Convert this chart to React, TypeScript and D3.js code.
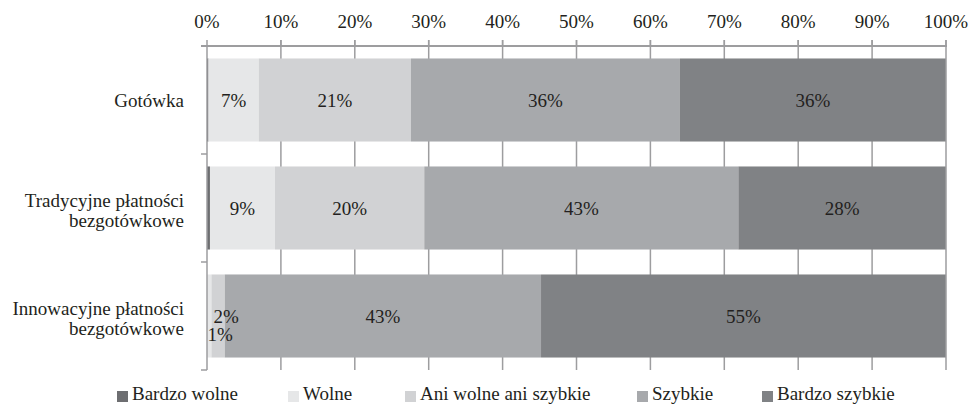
import React from "react";
import * as d3 from "d3";

const categories = ["Gotówka", "Tradycyjne płatności\nbezgotówkowe", "Innowacyjne płatności\nbezgotówkowe"];
const seriesNames = ["Bardzo wolne", "Wolne", "Ani wolne ani szybkie", "Szybkie", "Bardzo szybkie"];
const bardzoWolne = [0.2, 0.4, 0];
const wolne = [6.8, 8.8, 0.6];
const aniWolneAniSzybkie = [20.6, 20.2, 1.8];
const szybkie = [36.4, 42.5, 42.8];
const bardzoSzybkie = [36.0, 28.1, 54.8];
const tickValues = [0, 10, 20, 30, 40, 50, 60, 70, 80, 90, 100];

const colors = ["#6d6e71", "#e6e7e8", "#d1d2d4", "#a7a9ac", "#808285"];
// label nudges for the crowded small segments (category index, series index) -> [dx, dy]
const labelNudge: Record<string, [number, number]> = {
  "2-1": [11, 18],
  "2-2": [8, 0],
};
const legendX = [117, 288, 405, 637, 762];

const W = 971;
const H = 405;
const FONT = "'Liberation Serif', 'Times New Roman', serif";
const TEXT = "#231f20";
const GRID = "#9d9d9f";

export default function App() {
  const seriesValues = [bardzoWolne, wolne, aniWolneAniSzybkie, szybkie, bardzoSzybkie];
  const rows = categories.map((c, i) => {
    const o: any = { cat: c };
    seriesNames.forEach((s, j) => (o[s] = seriesValues[j][i]));
    return o;
  });
  const stacked = d3.stack<any>().keys(seriesNames)(rows);

  const x = d3.scaleLinear().domain([0, 100]).range([207, 946]);
  const y = d3.scaleBand<string>().domain(categories).range([46, 370]).paddingInner(0.231).paddingOuter(0.1155);
  const step = y.step();
  const bounds = categories.map((c) => (y(c) as number) - (step * 0.231) / 2).concat([370]);

  return (
    <div style={{ position: "absolute", left: 0, top: 0 }}>
      <svg width={W} height={H} style={{ display: "block", background: "#fff" }} fontFamily={FONT}>
        {/* inner gridlines */}
        {tickValues.slice(1, -1).map((t) => (
          <line key={"g" + t} x1={x(t)} x2={x(t)} y1={40} y2={370} stroke={GRID} strokeWidth={1.5} />
        ))}
        {/* bars */}
        {stacked.map((s, j) =>
          s.map((d, i) => (
            <rect
              key={`r${j}-${i}`}
              x={x(d[0])}
              y={y(categories[i])}
              width={Math.max(0, x(d[1]) - x(d[0]))}
              height={y.bandwidth()}
              fill={colors[j]}
            />
          ))
        )}
        {/* data labels */}
        {stacked.map((s, j) =>
          s.map((d, i) => {
            const v = d[1] - d[0];
            const r = Math.round(v);
            if (r === 0) return null;
            const n = labelNudge[`${i}-${j}`] || [0, 0];
            const cx = (x(d[0]) + x(d[1])) / 2 + n[0];
            const cy = (y(categories[i]) as number) + y.bandwidth() / 2 + 6.5 + n[1];
            return (
              <text key={`l${j}-${i}`} x={cx} y={cy} textAnchor="middle" fontSize={19} fill={TEXT}>
                {r}%
              </text>
            );
          })
        )}
        {/* top axis */}
        <line x1={201} x2={947} y1={46} y2={46} stroke={GRID} strokeWidth={2} />
        {tickValues.map((t) => (
          <line key={"t" + t} x1={x(t)} x2={x(t)} y1={40} y2={46} stroke={GRID} strokeWidth={1.5} />
        ))}
        <line x1={x(100)} x2={x(100)} y1={40} y2={370} stroke={GRID} strokeWidth={1.5} />
        {tickValues.map((t) => (
          <text key={"tl" + t} x={x(t)} y={28} textAnchor="middle" fontSize={19} fill={TEXT}>
            {t}%
          </text>
        ))}
        {/* left axis */}
        <line x1={x(0)} x2={x(0)} y1={46} y2={370} stroke={GRID} strokeWidth={1.5} />
        {bounds.map((b, k) => (
          <line key={"lb" + k} x1={201} x2={x(0)} y1={b} y2={b} stroke={GRID} strokeWidth={1.5} />
        ))}
        {/* category labels */}
        {categories.map((c) => {
          const lines = c.split("\n");
          const cy = (y(c) as number) + y.bandwidth() / 2;
          const base = lines.length === 1 ? cy + 7 : cy - 1;
          return (
            <text key={"c" + c} x={184} y={base} textAnchor="end" fontSize={19} fill={TEXT}>
              {lines.map((l, k) => (
                <tspan key={k} x={184} dy={k === 0 ? 0 : 20}>
                  {l}
                </tspan>
              ))}
            </text>
          );
        })}
        {/* legend */}
        {seriesNames.map((s, j) => (
          <g key={"lg" + s}>
            <rect x={legendX[j]} y={391} width={11} height={11} fill={colors[j]} />
            <text x={legendX[j] + 15} y={400} fontSize={19} fill={TEXT}>
              {s}
            </text>
          </g>
        ))}
      </svg>
    </div>
  );
}
